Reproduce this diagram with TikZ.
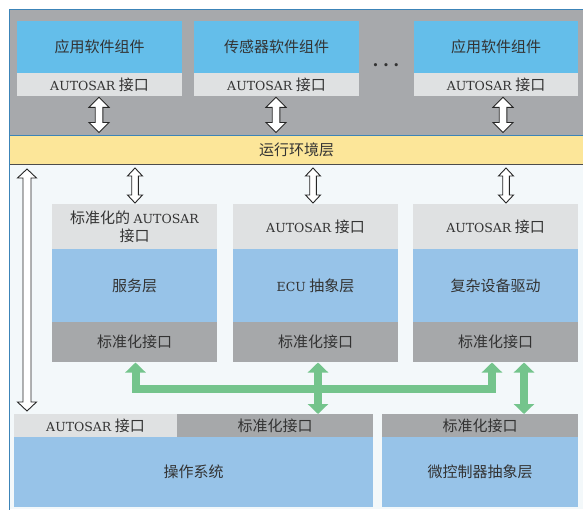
\documentclass[tikz,border=0pt]{standalone}
\usepackage{fontspec}
\newfontfamily\cjk{Noto Sans CJK SC}
\newfontfamily\latserif{DejaVu Serif}
\usetikzlibrary{calc,arrows.meta}
\definecolor{frameblue}{HTML}{3C84B8}
\definecolor{topgray}{HTML}{A7A9AC}
\definecolor{topblue}{HTML}{64BEEA}
\definecolor{lgray}{HTML}{DFE1E2}
\definecolor{dgray}{HTML}{A6A8AA}
\definecolor{rteyellow}{HTML}{FCE699}
\definecolor{lightbg}{HTML}{F3F8FA}
\definecolor{midblue}{HTML}{97C3E8}
\definecolor{greenarr}{HTML}{74C48C}
\definecolor{txt}{HTML}{333333}
\newcommand{\lat}[1]{{\latserif\fontsize{12.5}{16}\selectfont #1}}
% block double arrow: #1 top point, #2 bottom point, #3 head half width, #4 head length, #5 shaft half width
\newcommand{\blockarrow}[5]{%
  \draw[arrowline] let \p1=(#1), \p2=(#2) in
    (\x1,\y1) -- ({\x1+#3pt},{\y1-#4pt}) -- ({\x1+#5pt},{\y1-#4pt})
    -- ({\x1+#5pt},{\y2+#4pt}) -- ({\x1+#3pt},{\y2+#4pt}) -- (\x1,\y2)
    -- ({\x1-#3pt},{\y2+#4pt}) -- ({\x1-#5pt},{\y2+#4pt})
    -- ({\x1-#5pt},{\y1-#4pt}) -- ({\x1-#3pt},{\y1-#4pt}) -- cycle;}
\tikzset{
  cell/.style={anchor=north west, inner sep=0pt, outer sep=0pt, draw=none,
    text=txt, align=center, font=\cjk\fontsize{15}{19}\selectfont},
  arrowline/.style={draw=black!85, line width=0.9pt, fill=white, line join=miter},
  greenline/.style={draw=greenarr, line width=8pt, line join=miter},
  greentips/.style={{Triangle[width=20pt,length=10pt]}-{Triangle[width=20pt,length=10pt]}},
}
\begin{document}
\begin{tikzpicture}[x=1pt,y=-1pt]
\useasboundingbox (0,0) rectangle (583,509);
% backgrounds
\fill[topgray] (9,9) rectangle (583,135);
\fill[lightbg] (9,164) rectangle (583,509);
% runtime environment band
\node[cell, fill=rteyellow, minimum width=575, minimum height=29] (rte) at (9,135) {运行环境层};
\draw[frameblue, line width=0.8pt] (rte.north west) -- (rte.north east);
\draw[black!70, line width=0.8pt] (rte.south west) -- (rte.south east);
\draw[frameblue, line width=0.9pt] (9,510) -- (9,9) -- (584,9);

% top software components
\node[cell, fill=topblue, minimum width=165, minimum height=52] (app1) at (17,21) {应用软件组件};
\node[cell, fill=lgray, minimum width=165, minimum height=23] (app1i) at (17,73) {\lat{AUTOSAR}~接口};
\node[cell, fill=topblue, minimum width=165, minimum height=52] (app2) at (194,21) {传感器软件组件};
\node[cell, fill=lgray, minimum width=165, minimum height=23] (app2i) at (194,73) {\lat{AUTOSAR}~接口};
\node[cell, fill=topblue, minimum width=164, minimum height=52] (app3) at (414,21) {应用软件组件};
\node[cell, fill=lgray, minimum width=164, minimum height=23] (app3i) at (414,73) {\lat{AUTOSAR}~接口};
\node[anchor=base, inner sep=0pt, text=txt, font=\latserif\bfseries\fontsize{17}{17}\selectfont] (dots) at (386,66.5) {.\hspace{4.5pt}.\hspace{4.5pt}.};

% middle stacks
\node[cell, fill=lgray, minimum width=165, minimum height=45] (svAi) at (52,204) {标准化的 \lat{AUTOSAR}\\[-1pt]接口};
\node[cell, fill=midblue, minimum width=165, minimum height=73] (svA) at (52,249) {服务层};
\node[cell, fill=dgray, minimum width=165, minimum height=39.5] (svAs) at (52,322) {标准化接口};
\node[cell, fill=lgray, minimum width=165, minimum height=45] (ecuI) at (233,204) {\lat{AUTOSAR}~接口};
\node[cell, fill=midblue, minimum width=165, minimum height=73] (ecu) at (233,249) {\lat{ECU}~抽象层};
\node[cell, fill=dgray, minimum width=165, minimum height=39.5] (ecuS) at (233,322) {标准化接口};
\node[cell, fill=lgray, minimum width=165, minimum height=45] (cddI) at (413,204) {\lat{AUTOSAR}~接口};
\node[cell, fill=midblue, minimum width=165, minimum height=73] (cdd) at (413,249) {复杂设备驱动};
\node[cell, fill=dgray, minimum width=165, minimum height=39.5] (cddS) at (413,322) {标准化接口};

% bottom
\node[cell, fill=lgray, minimum width=163, minimum height=23] (osI) at (14,414) {\lat{AUTOSAR}~接口};
\node[cell, fill=dgray, minimum width=196, minimum height=23] (osS) at (177,414) {标准化接口};
\node[cell, fill=midblue, minimum width=359, minimum height=70] (os) at (14,437) {操作系统};
\node[cell, fill=dgray, minimum width=196, minimum height=23] (mcuS) at (382,414) {标准化接口};
\node[cell, fill=midblue, minimum width=196, minimum height=70] (mcu) at (382,437) {微控制器抽象层};

% white block arrows: components <-> RTE
\coordinate (a1t) at ($(app1i.south)+(-0.5,1.3)$);
\coordinate (a1b) at ($(a1t |- rte.north)+(0,-2.5)$);
\coordinate (a2t) at ($(app2i.south)+(-0.5,1.3)$);
\coordinate (a2b) at ($(a2t |- rte.north)+(0,-2.5)$);
\coordinate (a3t) at ($(app3i.south)+(7,1.3)$);
\coordinate (a3b) at ($(a3t |- rte.north)+(0,-2.5)$);
\blockarrow{a1t}{a1b}{10}{10}{3.8}
\blockarrow{a2t}{a2b}{10}{10}{3.8}
\blockarrow{a3t}{a3b}{10}{10}{3.8}

% white block arrows: RTE <-> basic software
\coordinate (m1b) at ($(svAi.north)+(0.5,-1)$);
\coordinate (m1t) at ($(m1b |- rte.south)+(0,4)$);
\coordinate (m2b) at ($(ecuI.north)+(-2.5,-1)$);
\coordinate (m2t) at ($(m2b |- rte.south)+(0,4)$);
\coordinate (m3b) at ($(cddI.north)+(10.5,-1)$);
\coordinate (m3t) at ($(m3b |- rte.south)+(0,4)$);
\blockarrow{m1t}{m1b}{7.5}{8}{3.3}
\blockarrow{m2t}{m2b}{7.5}{8}{3.3}
\blockarrow{m3t}{m3b}{7.5}{8}{3.3}

% long left arrow: RTE <-> OS
\coordinate (lt) at ($(rte.south west)+(18,5)$);
\coordinate (lb) at ($(osI.north west)+(13,-3)$);
\blockarrow{lt}{lb}{9.5}{9}{4}

% green arrows
\coordinate (gA) at ($(svAs.south)+(1,1)$);
\coordinate (gC) at ($(cddS.south)+(-3.5,1)$);
\coordinate (gmid) at (300,389);
\draw[greenline, greentips] (gA) -- (gA |- gmid) -- (gC |- gmid) -- (gC);
\coordinate (gB) at ($(ecuS.south)+(2.5,1)$);
\draw[greenline, greentips] (gB) -- (gB |- osS.north);
\coordinate (gD) at ($(cddS.south)+(28.5,1)$);
\draw[greenline, greentips] (gD) -- (gD |- mcuS.north);
\end{tikzpicture}
\end{document}
